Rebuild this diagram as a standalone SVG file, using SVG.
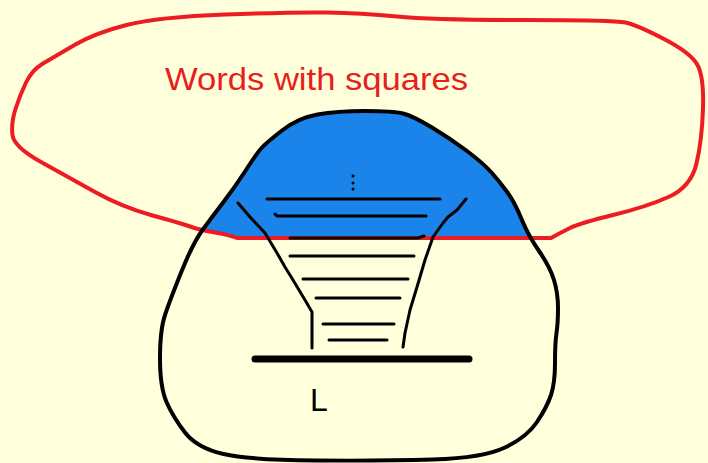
<svg xmlns="http://www.w3.org/2000/svg" width="708" height="463" viewBox="0 0 708 463">
<defs>
<style>
.red{fill:none;stroke:#ED1C24;stroke-width:4;stroke-linejoin:round;stroke-linecap:round}
.blk{fill:none;stroke:#000;stroke-width:4;stroke-linejoin:round;stroke-linecap:round}
.ln{fill:none;stroke:#000;stroke-width:3;stroke-linecap:round;stroke-linejoin:round}
.lbl{font-family:"Liberation Sans",Arial,sans-serif;font-size:32px}
</style>
<path id="blob" d="M317.5,114.5 Q337,111 365,111 Q393,111 403,113.5 Q413,116 432,127.5 Q451,139 467,151 Q483,163 491.5,172.5 Q500,182 507.5,192.5 Q515,203 521.5,219 Q528,235 539,251 Q550,267 554,280 Q558,293 558,308 Q558,323 556.5,333 Q555,343 555,363 Q555,383 551,395 Q547,407 537,422 Q527,437 505,447.5 Q483,458 433,459.5 Q383,461 316.5,460.5 Q250,460 223.5,454 Q197,448 185,432.5 Q173,417 166.5,402 Q160,387 160,358.5 Q160,330 165,315 Q170,300 181.5,271.5 Q193,243 202.5,230 Q212,217 223.5,202 Q235,187 246,170 Q257,153 261.5,148 Q266,143 282,130.5 Q298,118 317.5,114.5 Z"/>
<clipPath id="above">
<polygon points="0,0 708,0 708,223 580,223 560,233 551,238 237,238 230,235 200,230 180,223 0,223"/>
</clipPath>
</defs>
<rect width="708" height="463" fill="#FFFFDC"/>
<g id="blue-region">
<use href="#blob" clip-path="url(#above)" fill="#1A84EB"/>
</g>
<g id="words-with-squares">
<path class="red" d="M551,238 L237,238 Q230,235 215,232.5 Q200,230 190,226.5 Q180,223 151,215 Q122,207 95,192 Q68,177 41,162 Q14,147 12.5,135 Q11,123 15.5,109 Q20,95 26,82.5 Q32,70 43,63.5 Q54,57 74.5,45 Q95,33 126.5,25 Q158,17 225.5,14.5 Q293,12 327,12.5 Q361,13 397,16.5 Q433,20 523.5,20 Q614,20 625.5,22.5 Q637,25 664,39 Q691,53 697.5,65 Q704,77 703,108.5 Q702,140 696.5,163.5 Q691,187 668.5,197 Q646,207 613,215 Q580,223 570,228 Q560,233 551,238 Z"/>
<text class="lbl" x="165" y="90" fill="#E81E1E" textLength="303" lengthAdjust="spacingAndGlyphs">Words with squares</text>
</g>
<g id="L-set">
<use href="#blob" class="blk"/>
<text class="lbl" x="310" y="411" fill="#000">L</text>
</g>
<g id="connectors">
<circle cx="353" cy="176" r="1.5" fill="#000"/>
<circle cx="353" cy="183" r="1.5" fill="#000"/>
<circle cx="353" cy="189" r="1.5" fill="#000"/>
<path class="ln" d="M267,199 L440,199"/>
<path class="ln" d="M275,214 L277,216 L426,216"/>
<path class="ln" d="M290,238 L418,238 L424,236"/>
<path class="ln" d="M290,256 L414,256"/>
<path class="ln" d="M303,279 L408,279"/>
<path class="ln" d="M316,298 L400,298"/>
<path class="ln" d="M323,324 L394,324"/>
<path class="ln" d="M329,340 L387,340"/>
<path class="ln" d="M238,203 L250,217 L265,233 L277,253 L285,267 L293,280 L305,300 L312,312 L312,348"/>
<path class="ln" d="M466,199 L457,210 L448,217 L443,223 L433,237 L425,260 L417,287 L410,310 L405,333 L403,347"/>
<path d="M255,359 L469,359" fill="none" stroke="#000" stroke-width="7" stroke-linecap="round"/>
</g>
</svg>
